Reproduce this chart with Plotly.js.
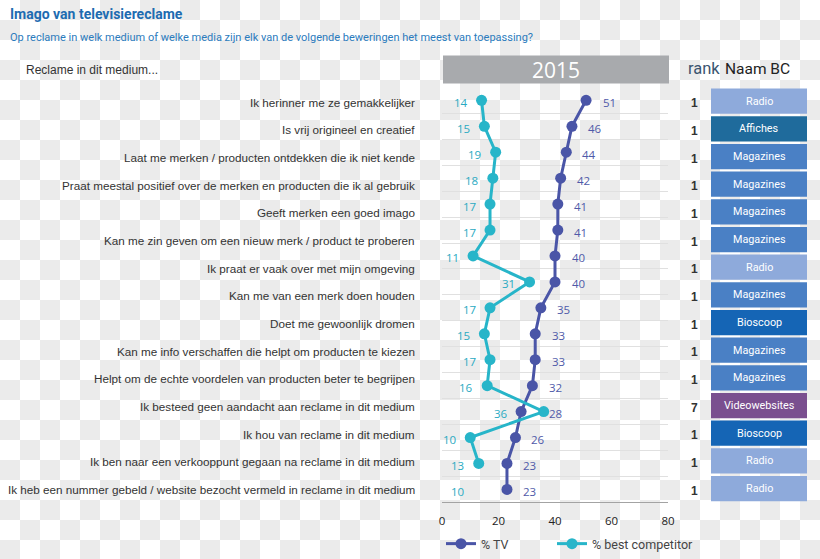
<!DOCTYPE html>
<html>
<head>
<meta charset="utf-8">
<script src="https://cdn.plot.ly/plotly-3.0.1.min.js"></script>
<style>
  html, body { margin: 0; padding: 0; }
  body {
    width: 820px; height: 559px; overflow: hidden;
    background: repeating-conic-gradient(#ebebeb 0 25%, #ffffff 0 50%) 0 0 / 40px 40px;
  }
  #chart { width: 820px; height: 559px; }
</style>
</head>
<body>
<div id="chart"></div>
<script>
// ---------------- data ----------------
const categories = [
  'Ik herinner me ze gemakkelijker',
  'Is vrij origineel en creatief',
  'Laat me merken / producten ontdekken die ik niet kende',
  'Praat meestal positief over de merken en producten die ik al gebruik',
  'Geeft merken een goed imago',
  'Kan me zin geven om een nieuw merk / product te proberen',
  'Ik praat er vaak over met mijn omgeving',
  'Kan me van een merk doen houden',
  'Doet me gewoonlijk dromen',
  'Kan me info verschaffen die helpt om producten te kiezen',
  'Helpt om de echte voordelen van producten beter te begrijpen',
  'Ik besteed geen aandacht aan reclame in dit medium',
  'Ik hou van reclame in dit medium',
  'Ik ben naar een verkooppunt gegaan na reclame in dit medium',
  'Ik heb een nummer gebeld / website bezocht vermeld in reclame in dit medium'
];
const tvValues = [51, 46, 44, 42, 41, 41, 40, 40, 35, 33, 33, 32, 28, 26, 23, 23];
const competitorValues = [14, 15, 19, 18, 17, 17, 11, 31, 17, 15, 17, 16, 36, 10, 13, 10];
const ranks = [1, 1, 1, 1, 1, 1, 1, 1, 1, 1, 1, 7, 1, 1, 1];
const bestCompetitor = ['Radio', 'Affiches', 'Magazines', 'Magazines', 'Magazines', 'Magazines',
  'Radio', 'Magazines', 'Bioscoop', 'Magazines', 'Magazines', 'Videowebsites', 'Bioscoop', 'Radio', 'Radio'];
const seriesNames = ['% TV', '% best competitor'];
const xTicks = [0, 20, 40, 60, 80];
const yearLabel = '2015';
const titleText = 'Imago van televisiereclame';
const subtitleText = 'Op reclame in welk medium of welke media zijn elk van de volgende beweringen het meest van toepassing?';
const stemText = 'Reclame in dit medium...';
const rankHeader = 'rank';
const nameHeader = 'Naam BC';

// ---------------- styles ----------------
const W = 820, H = 559;
const px = x => x / W;
const py = y => 1 - y / H;
const SANS = '"Liberation Sans", Arial, Helvetica, sans-serif';
const NARROW = 'Roboto, "Liberation Sans", sans-serif';
const OPEN = '"Open Sans", "Noto Sans", sans-serif';
const TV_COLOR = '#4a55a7';
const COMP_COLOR = '#27b5c9';
const mediumColors = {
  'Radio': '#8eaadb',
  'Affiches': '#1f6b9c',
  'Magazines': '#4a80c5',
  'Bioscoop': '#1565b5',
  'Videowebsites': '#7a4f8f'
};
// label offsets (px) relative to their point; a few were moved in the reference to avoid overlap
const tvShift = i => (i === 12 ? 34 : 23);
const compShift = i => (i === 12 ? -43 : -21);
// the reference draws the competitor line only for the first 15 rows; the last value is a label only
const compDrawnCount = 15;

const rowsPts = tvValues.map((_, i) => i);

const traces = [
  {
    type: 'scatter', mode: 'lines+markers', name: seriesNames[0],
    x: tvValues, y: rowsPts,
    line: { color: TV_COLOR, width: 3 },
    marker: { color: TV_COLOR, size: 11 },
    legendwidth: 66,
    hoverinfo: 'skip'
  },
  {
    type: 'scatter', mode: 'lines+markers', name: seriesNames[1],
    x: competitorValues.slice(0, compDrawnCount), y: rowsPts.slice(0, compDrawnCount),
    line: { color: COMP_COLOR, width: 3 },
    marker: { color: COMP_COLOR, size: 11 },
    legendwidth: 110,
    hoverinfo: 'skip'
  },
  {
    type: 'scatter', mode: 'markers', x: [], y: [], yaxis: 'y2',
    showlegend: false, hoverinfo: 'skip'
  }
];

const annotations = [];
// point labels
tvValues.forEach((v, i) => {
  annotations.push({
    x: v, y: i, xref: 'x', yref: 'y', text: String(v), showarrow: false,
    xshift: tvShift(i), yshift: -2, xanchor: 'center', yanchor: 'middle',
    font: { family: OPEN, size: 11.5, color: '#4f5aa9' }
  });
});
competitorValues.forEach((v, i) => {
  const anchorX = i < compDrawnCount ? v : competitorValues[compDrawnCount - 1];
  annotations.push({
    x: anchorX, y: i, xref: 'x', yref: 'y', text: String(v), showarrow: false,
    xshift: compShift(i), yshift: -2, xanchor: 'center', yanchor: 'middle',
    font: { family: OPEN, size: 11.5, color: '#2aaac2' }
  });
});
// category labels, ranks and best competitor boxes
const shapes = [];
categories.forEach((c, i) => {
  annotations.push({
    x: px(417), y: i, xref: 'paper', yref: 'y2', text: c, showarrow: false,
    xanchor: 'right', yanchor: 'middle', yshift: -1,
    font: { family: SANS, size: 11.7, color: '#333333' }
  });
  annotations.push({
    x: px(694), y: i, xref: 'paper', yref: 'y2', text: String(ranks[i]), showarrow: false,
    xanchor: 'center', yanchor: 'middle', yshift: -2,
    font: { family: SANS, size: 12, color: '#333333', weight: 'bold' }
  });
  shapes.push({
    type: 'rect', xref: 'paper', yref: 'y2',
    x0: px(711), x1: px(807), y0: i - 0.455, y1: i + 0.455,
    fillcolor: mediumColors[bestCompetitor[i]], line: { width: 0 }, layer: 'above'
  });
  annotations.push({
    x: px(759), y: i, xref: 'paper', yref: 'y2', text: bestCompetitor[i], showarrow: false,
    xanchor: 'center', yanchor: 'middle',
    font: { family: NARROW, size: 10.8, color: '#ffffff' }
  });
});
// header block
shapes.push({
  type: 'rect', xref: 'paper', yref: 'paper',
  x0: px(443), x1: px(669), y0: py(84), y1: py(56),
  fillcolor: '#a8aaad', line: { width: 0 }
});
annotations.push(
  { x: px(556), y: py(70.5), xref: 'paper', yref: 'paper', text: yearLabel, showarrow: false,
    xanchor: 'center', yanchor: 'middle', font: { family: OPEN, size: 21, color: '#ffffff' } },
  { x: px(8), y: py(14), xref: 'paper', yref: 'paper', text: '<b>' + titleText + '</b>', showarrow: false,
    xanchor: 'left', yanchor: 'middle', font: { family: NARROW, size: 14, color: '#1d6cb1' } },
  { x: px(8), y: py(38), xref: 'paper', yref: 'paper', text: subtitleText, showarrow: false,
    xanchor: 'left', yanchor: 'middle', font: { family: NARROW, size: 11, color: '#2b7bbd' } },
  { x: px(24), y: py(71), xref: 'paper', yref: 'paper', text: stemText, showarrow: false,
    xanchor: 'left', yanchor: 'middle', font: { family: SANS, size: 12, color: '#333333' } },
  { x: px(686), y: py(69), xref: 'paper', yref: 'paper', text: rankHeader, showarrow: false,
    xanchor: 'left', yanchor: 'middle', font: { family: NARROW, size: 16.5, color: '#3b5570' } },
  { x: px(723), y: py(69), xref: 'paper', yref: 'paper', text: nameHeader, showarrow: false,
    xanchor: 'left', yanchor: 'middle', font: { family: NARROW, size: 15.5, color: '#222222' } }
);

const gridVals = tvValues.slice(1).map((_, i) => i + 0.5);
const yDomain = [py(506), py(88)];

const layout = {
  width: W, height: H,
  margin: { l: 0, r: 0, t: 0, b: 0, pad: 0 },
  paper_bgcolor: 'rgba(0,0,0,0)',
  plot_bgcolor: 'rgba(0,0,0,0)',
  showlegend: true,
  legend: {
    orientation: 'h', x: px(441), xanchor: 'left', y: py(548), yanchor: 'middle',
    font: { family: NARROW, size: 12.5, color: '#444444' },
    bgcolor: 'rgba(0,0,0,0)',
    itemclick: false, itemdoubleclick: false
  },
  xaxis: {
    domain: [px(442), px(668)], range: [0, 80], tickvals: xTicks,
    showgrid: false, zeroline: false, showline: true, linecolor: '#a3a3a3', linewidth: 1,
    ticks: '', ticklabelstandoff: 8,
    tickfont: { family: OPEN, size: 11.5, color: '#222222' }, fixedrange: true,
    anchor: 'y'
  },
  yaxis: {
    domain: yDomain, range: [tvValues.length - 0.5, -0.5],
    tickvals: gridVals, showticklabels: false, ticks: '',
    showgrid: true, gridcolor: '#e0e0e0', gridwidth: 1, zeroline: false, showline: false,
    fixedrange: true, anchor: 'x'
  },
  yaxis2: {
    overlaying: 'y', anchor: 'x', side: 'right',
    range: [categories.length - 0.5, -0.5], visible: false, fixedrange: true
  },
  shapes: shapes,
  annotations: annotations,
  hovermode: false
};

Plotly.newPlot('chart', traces, layout, { displayModeBar: false, staticPlot: true });
</script>
</body>
</html>
